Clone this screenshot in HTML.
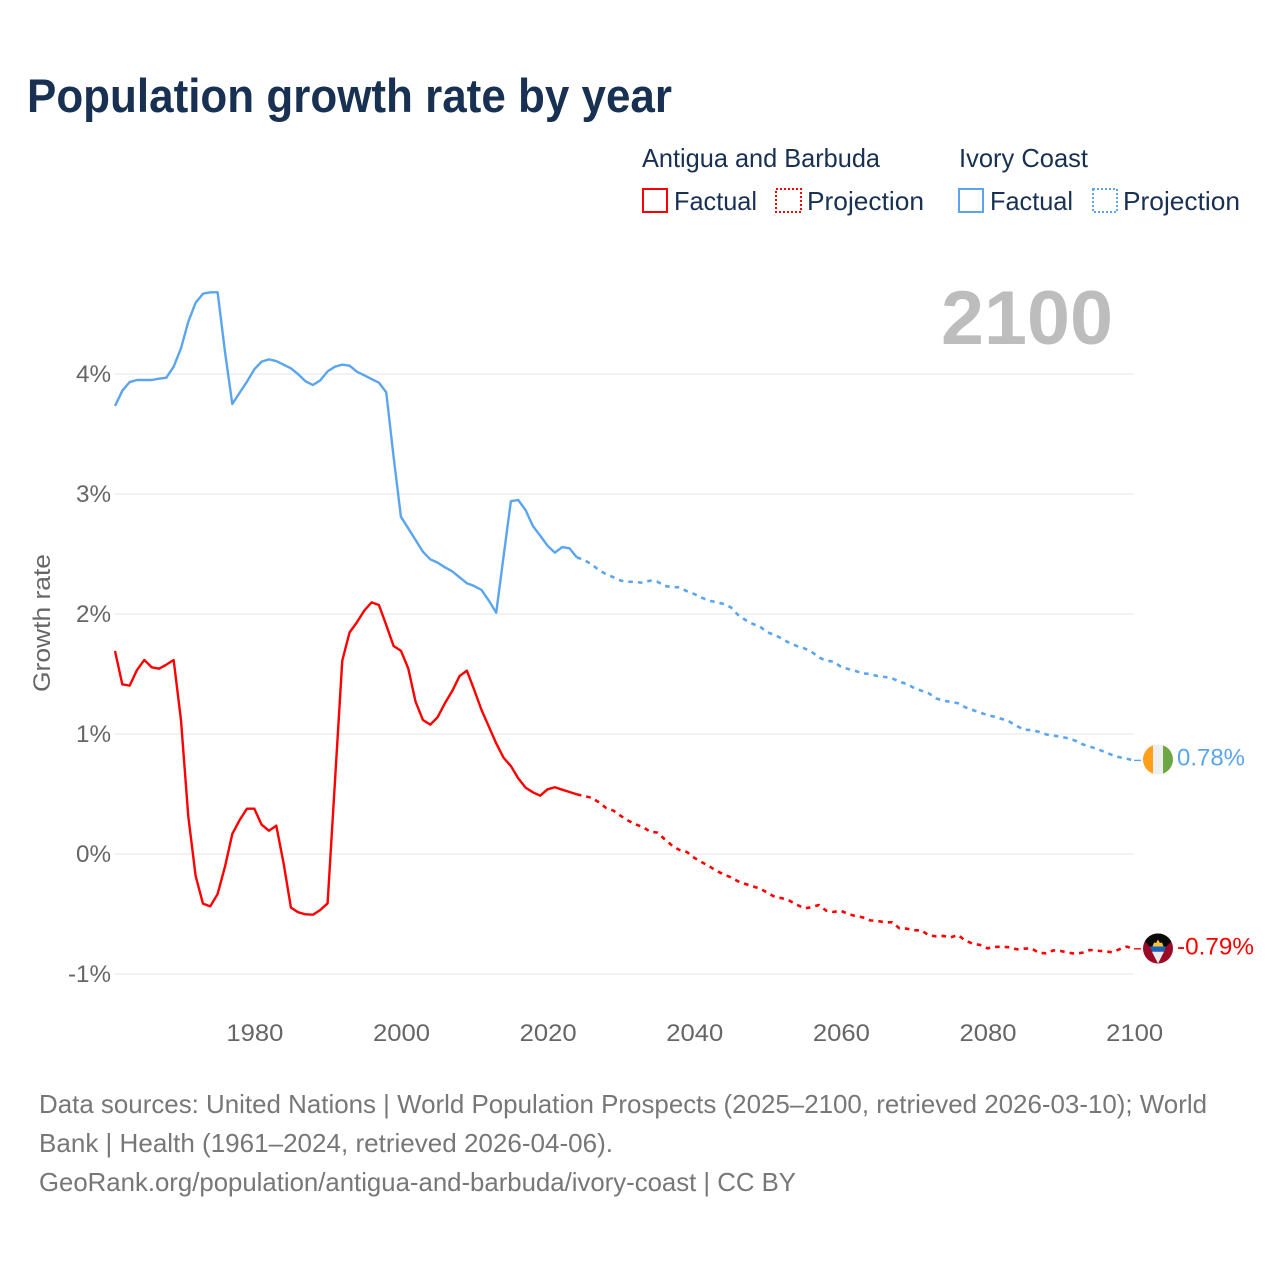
<!DOCTYPE html>
<html lang="en">
<head>
<meta charset="utf-8">
<title>Population growth rate by year</title>
<style>
  html, body { margin: 0; padding: 0; background: #fff; }
  svg { display: block; font-family: "Liberation Sans", "DejaVu Sans", sans-serif; }
</style>
</head>
<body>
<svg id="chart" xmlns="http://www.w3.org/2000/svg" width="1280" height="1280" viewBox="0 0 1280 1280">
  <rect width="1280" height="1280" fill="#ffffff"/>
  <text x="27" y="112" font-size="47" font-weight="700" fill="#183153" textLength="645" lengthAdjust="spacingAndGlyphs">Population growth rate by year</text>

  <g font-size="26" fill="#183153">
    <text x="642" y="167" textLength="238" lengthAdjust="spacingAndGlyphs">Antigua and Barbuda</text>
    <text x="959" y="167" textLength="129" lengthAdjust="spacingAndGlyphs">Ivory Coast</text>
    <rect x="643" y="189" width="24" height="23" fill="none" stroke="#ff0000" stroke-width="2"/>
    <text x="674" y="210" textLength="83" lengthAdjust="spacingAndGlyphs">Factual</text>
    <rect x="776" y="189" width="25" height="23" fill="none" stroke="#ff0000" stroke-width="2" stroke-dasharray="2,2"/>
    <text x="807" y="210" textLength="117" lengthAdjust="spacingAndGlyphs">Projection</text>
    <rect x="959" y="189" width="24" height="23" fill="none" stroke="#5aa5ee" stroke-width="2"/>
    <text x="990" y="210" textLength="83" lengthAdjust="spacingAndGlyphs">Factual</text>
    <rect x="1093" y="189" width="24" height="23" fill="none" stroke="#5aa5ee" stroke-width="2" stroke-dasharray="2,2"/>
    <text x="1123" y="210" textLength="117" lengthAdjust="spacingAndGlyphs">Projection</text>
  </g>

  <text transform="translate(50 692) rotate(-90)" font-size="24" fill="#666666" textLength="138" lengthAdjust="spacingAndGlyphs">Growth rate</text>
  <text x="1113" y="344" text-anchor="end" font-size="76" font-weight="700" fill="#bdbdbd" textLength="172" lengthAdjust="spacingAndGlyphs">2100</text>

  <g id="grid"></g>
  <g id="ticks"></g>
  <g id="series"></g>
  <g id="ends"></g>

  <defs>
    <clipPath id="flagClip"><circle cx="0" cy="0" r="15"/></clipPath>
  </defs>

  <g font-size="26" fill="#777777">
    <text x="39" y="1113" textLength="1168" lengthAdjust="spacingAndGlyphs">Data sources: United Nations | World Population Prospects (2025–2100, retrieved 2026-03-10); World</text>
    <text x="39" y="1152" textLength="574" lengthAdjust="spacingAndGlyphs">Bank | Health (1961–2024, retrieved 2026-04-06).</text>
    <text x="39" y="1191" textLength="757" lengthAdjust="spacingAndGlyphs">GeoRank.org/population/antigua-and-barbuda/ivory-coast | CC BY</text>
  </g>
</svg>

<script>
const firstYear = 1961;
const lastFactualYear = 2024;
const xTickYears = [1980, 2000, 2020, 2040, 2060, 2080, 2100];
const xTickLabels = ["1980", "2000", "2020", "2040", "2060", "2080", "2100"];
const yTickValues = [-1, 0, 1, 2, 3, 4];
const yTickLabels = ["-1%", "0%", "1%", "2%", "3%", "4%"];

// Ivory Coast growth rate (%), 1961–2024
const ivoryFactual = [3.733,3.861,3.933,3.95,3.95,3.95,3.961,3.969,4.061,4.214,4.436,4.594,4.669,4.681,4.681,4.186,3.75,3.844,3.936,4.039,4.103,4.122,4.108,4.078,4.047,3.997,3.939,3.908,3.947,4.022,4.061,4.078,4.069,4.019,3.989,3.958,3.928,3.847,3.31,2.811,2.714,2.617,2.519,2.456,2.428,2.389,2.356,2.306,2.256,2.233,2.2,2.111,2.011,2.478,2.94,2.95,2.867,2.733,2.653,2.569,2.511,2.558,2.547,2.472];
// Ivory Coast projection (%), 2025–2100
const ivoryProjection = [2.45,2.414,2.367,2.331,2.306,2.278,2.269,2.267,2.26,2.278,2.269,2.233,2.225,2.222,2.19,2.167,2.137,2.111,2.1,2.083,2.056,1.992,1.95,1.917,1.894,1.847,1.825,1.794,1.758,1.733,1.714,1.686,1.639,1.611,1.603,1.561,1.542,1.525,1.506,1.5,1.483,1.475,1.464,1.436,1.417,1.383,1.361,1.339,1.297,1.278,1.267,1.256,1.222,1.2,1.178,1.158,1.144,1.125,1.103,1.067,1.036,1.033,1.019,0.997,0.986,0.978,0.964,0.944,0.914,0.894,0.875,0.85,0.825,0.806,0.794,0.78];
// Antigua and Barbuda growth rate (%), 1961–2024
const antiguaFactual = [1.692,1.414,1.403,1.533,1.617,1.556,1.544,1.578,1.617,1.117,0.311,-0.183,-0.414,-0.436,-0.333,-0.106,0.167,0.283,0.378,0.378,0.244,0.194,0.236,-0.078,-0.447,-0.486,-0.503,-0.506,-0.467,-0.411,0.6,1.611,1.847,1.931,2.028,2.097,2.075,1.908,1.733,1.694,1.547,1.269,1.117,1.078,1.139,1.256,1.358,1.483,1.528,1.367,1.2,1.061,0.922,0.803,0.733,0.631,0.553,0.514,0.486,0.539,0.556,0.536,0.517,0.497];
// Antigua and Barbuda projection (%), 2025–2100
const antiguaProjection = [0.483,0.469,0.431,0.383,0.361,0.317,0.278,0.247,0.225,0.186,0.178,0.122,0.069,0.033,0.017,-0.031,-0.067,-0.1,-0.139,-0.169,-0.194,-0.228,-0.25,-0.269,-0.289,-0.322,-0.358,-0.369,-0.389,-0.422,-0.453,-0.444,-0.425,-0.472,-0.483,-0.472,-0.5,-0.517,-0.528,-0.553,-0.558,-0.569,-0.569,-0.619,-0.622,-0.636,-0.636,-0.678,-0.686,-0.683,-0.694,-0.675,-0.722,-0.747,-0.758,-0.786,-0.775,-0.772,-0.778,-0.794,-0.789,-0.786,-0.822,-0.828,-0.803,-0.808,-0.822,-0.831,-0.822,-0.8,-0.806,-0.811,-0.819,-0.794,-0.772,-0.79];
const endLabelIvory = "0.78%";
const endLabelAntigua = "-0.79%";

const NS = "http://www.w3.org/2000/svg";
const xScale = (year) => 115 + (year - 1961) * 7.331;
const yScale = (value) => 854 - value * 120;
const plotLeft = xScale(firstYear);
const plotRight = xScale(2100);

function make(tag, attrs, parent) {
  const el = document.createElementNS(NS, tag);
  for (const key in attrs) el.setAttribute(key, attrs[key]);
  parent.appendChild(el);
  return el;
}

const gridGroup = document.getElementById("grid");
const ticksGroup = document.getElementById("ticks");
const seriesGroup = document.getElementById("series");
const endsGroup = document.getElementById("ends");

yTickValues.forEach(function (value, i) {
  const line = make("line", { x1: plotLeft, x2: plotRight, y1: yScale(value), y2: yScale(value), stroke: "#e6e6e6", "stroke-width": 1 }, gridGroup);
  
  
  const label = make("text", { x: 111, y: yScale(value) + 8, "text-anchor": "end", "font-size": 24, fill: "#666666", textLength: yTickLabels[i].length === 3 ? 43 : 35, lengthAdjust: "spacingAndGlyphs" }, ticksGroup);
  
  
  label.textContent = yTickLabels[i];
});

xTickYears.forEach(function (year, i) {
  const label = make("text", { x: xScale(year) + 0.6, y: 1041, "text-anchor": "middle", "font-size": 24, fill: "#666666", textLength: 57, lengthAdjust: "spacingAndGlyphs" }, ticksGroup);
  
  
  label.textContent = xTickLabels[i];
});

function pathFrom(values, startYear) {
  return values.map(function (value, i) {
    return (i === 0 ? "M" : "L") + xScale(startYear + i).toFixed(2) + " " + yScale(value).toFixed(2);
  }).join(" ");
}

function drawSeries(factual, projection, color) {
  const solid = make("path", { d: pathFrom(factual, firstYear), fill: "none", stroke: color, "stroke-width": 2.4, "stroke-linejoin": "round" }, seriesGroup);
  
  
  const joined = [factual[factual.length - 1]].concat(projection);
  const dashed = make("path", { d: pathFrom(joined, lastFactualYear), fill: "none", stroke: color, "stroke-width": 2.6, "stroke-dasharray": "4.6,5", "stroke-linejoin": "round" }, seriesGroup);
  
  
  const endY = yScale(projection[projection.length - 1]);
  const connector = make("line", { x1: plotRight, x2: plotRight + 7, y1: endY, y2: endY, stroke: color, "stroke-width": 1.4 }, seriesGroup);
  
  
  return endY;
}

const ivoryEndY = drawSeries(ivoryFactual, ivoryProjection, "#5aa5ee");
const antiguaEndY = drawSeries(antiguaFactual, antiguaProjection, "#ff0000");

const flagX = 1158;

// Ivory Coast flag marker
const ivoryFlag = make("g", { transform: "translate(" + flagX + " " + (ivoryEndY - 0.9) + ")", "clip-path": "url(#flagClip)" }, endsGroup);


make("rect", { x: -15, y: -15, width: 10, height: 30, fill: "#ff9f1c" }, ivoryFlag);
make("rect", { x: -5, y: -15, width: 10, height: 30, fill: "#efefef" }, ivoryFlag);
make("rect", { x: 5, y: -15, width: 10, height: 30, fill: "#6ea644" }, ivoryFlag);

const ivoryLabel = make("text", { x: 1177, y: ivoryEndY + 5, "font-size": 24, fill: "#5aa5ee", textLength: 68, lengthAdjust: "spacingAndGlyphs" }, endsGroup);


ivoryLabel.textContent = endLabelIvory;

// Antigua and Barbuda flag marker
const antiguaFlag = make("g", { transform: "translate(" + flagX + " " + (antiguaEndY - 0.3) + ")", "clip-path": "url(#flagClip)" }, endsGroup);


make("rect", { x: -15, y: -15, width: 30, height: 30, fill: "#9c0a26" }, antiguaFlag);
make("polygon", { points: "-15,-15 15,-15 15,-9 8.5,-2 -8.5,-2 -15,-9", fill: "#0a0a0a" }, antiguaFlag);
make("polygon", { points: "-8,-2 8,-2 6,3.3 -6,3.3", fill: "#1565c0" }, antiguaFlag);
make("polygon", { points: "-6,3.3 6,3.3 0,15", fill: "#ececec" }, antiguaFlag);
make("polygon", { points: "-5.5,-2 -4,-6 -2,-5.5 0,-9 2,-5.5 4,-6 5.5,-2", fill: "#f8c33a" }, antiguaFlag);

const antiguaLabel = make("text", { x: 1177, y: antiguaEndY + 5.5, "font-size": 24, fill: "#ff0000", textLength: 77, lengthAdjust: "spacingAndGlyphs" }, endsGroup);


antiguaLabel.textContent = endLabelAntigua;
</script>
</body>
</html>
